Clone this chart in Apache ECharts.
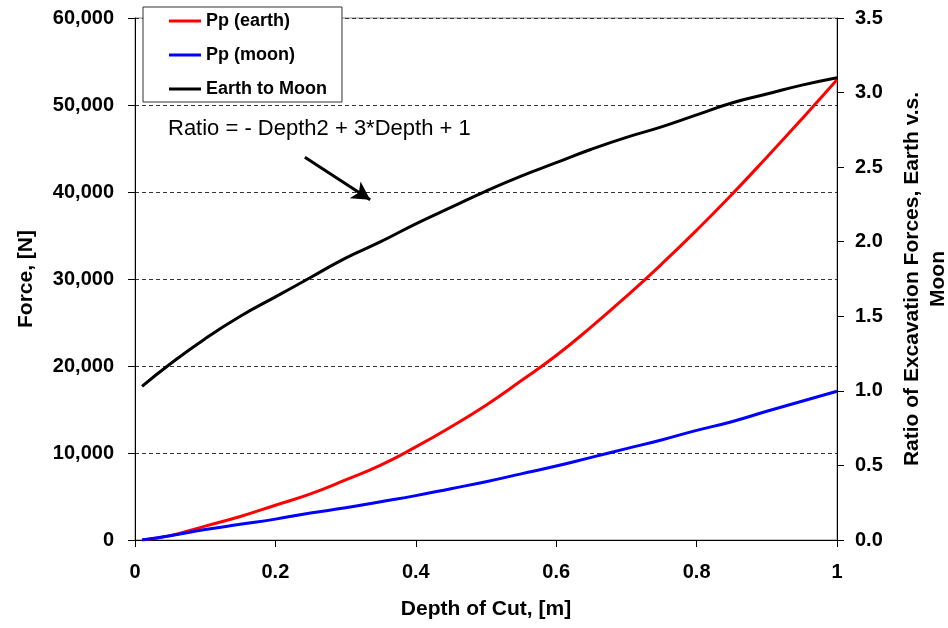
<!DOCTYPE html>
<html>
<head>
<meta charset="utf-8">
<script src="https://cdn.jsdelivr.net/npm/echarts@6/dist/echarts.min.js"></script>
<style>
  html, body { margin: 0; padding: 0; background: #fff; }
  #chart { width: 948px; height: 628px; }
</style>
</head>
<body>
<div id="chart"></div>
<script>
// depth of cut [m]
var depth = [0.01, 0.05, 0.1, 0.15, 0.2, 0.25, 0.3, 0.35, 0.4, 0.45, 0.5,
             0.55, 0.6, 0.65, 0.7, 0.75, 0.8, 0.85, 0.9, 0.95, 1.0];
// forces [N]
var ppEarth = [0, 500, 1600, 2700, 4000, 5300, 6900, 8600, 10700, 13000, 15500,
               18300, 21200, 24500, 28000, 31700, 35600, 39700, 44000, 48400, 52900];
var ppMoon = [0, 500, 1200, 1800, 2400, 3100, 3700, 4400, 5100, 5900, 6700,
              7600, 8500, 9500, 10500, 11500, 12600, 13600, 14800, 15950, 17100];
// ratio earth / moon (right axis)
var ratio = [1.03, 1.18, 1.35, 1.50, 1.63, 1.76, 1.89, 2.00, 2.12, 2.23, 2.34,
             2.44, 2.53, 2.62, 2.70, 2.77, 2.85, 2.93, 2.99, 3.05, 3.10];

// arrow of the annotation, in data units
var arrowFrom = [0.242, 44000];
var arrowTo = [0.335, 39100];

function pairs(xs, ys) {
    return xs.map(function (x, i) { return [x, ys[i]]; });
}

var font = "'Liberation Sans', Arial, sans-serif";
var myChart = echarts.init(document.getElementById('chart'));

var option = {
    animation: false,
    textStyle: {fontFamily: font},
    grid: {
        left: 135,
        right: 111,
        top: 18,
        bottom: 88,
        outerBoundsMode: 'none',
        show: true,
        borderColor: '#888',
        borderWidth: 1
    },
    legend: {
        orient: 'vertical',
        left: 143,
        top: 7,
        padding: [5, 15, 4, 26],
        icon: 'rect',
        itemWidth: 32,
        itemHeight: 3,
        itemGap: 16,
        backgroundColor: '#fff',
        borderColor: '#333',
        borderWidth: 1,
        borderRadius: 0,
        textStyle: {
            fontFamily: font,
            fontWeight: 'bold',
            fontSize: 18,
            color: '#000'
        },
        data: ['Pp (earth)', 'Pp (moon)', 'Earth to Moon']
    },
    graphic: [
        {
            type: 'text',
            left: 168,
            top: 118,
            style: {
                text: 'Ratio = - Depth2 + 3*Depth + 1',
                fontFamily: font,
                fontSize: 22,
                fill: '#000'
            }
        }
    ],
    xAxis: {
        type: 'value',
        min: 0,
        max: 1,
        interval: 0.2,
        name: 'Depth of Cut, [m]',
        nameLocation: 'middle',
        nameGap: 59,
        nameTextStyle: {fontFamily: font, fontWeight: 'bold', fontSize: 21, color: '#000'},
        axisLine: {lineStyle: {color: '#000', width: 1}},
        axisTick: {length: 7, lineStyle: {color: '#000'}},
        axisLabel: {
            margin: 22,
            fontFamily: font,
            fontWeight: 'bold',
            fontSize: 20,
            color: '#000'
        },
        splitLine: {show: false}
    },
    yAxis: [
        {
            type: 'value',
            min: 0,
            max: 60000,
            interval: 10000,
            position: 'left',
            name: 'Force, [N]',
            nameLocation: 'middle',
            nameGap: 98,
            nameRotate: 90,
            nameTextStyle: {fontFamily: font, fontWeight: 'bold', fontSize: 21, color: '#000'},
            axisLine: {show: true, lineStyle: {color: '#000', width: 1}},
            axisTick: {show: true, length: 7, lineStyle: {color: '#000'}},
            axisLabel: {
                margin: 21,
                fontFamily: font,
                fontWeight: 'bold',
                fontSize: 20,
                color: '#000',
                formatter: function (v) { return v.toLocaleString('en-US'); }
            },
            splitLine: {
                show: true,
                lineStyle: {color: '#333', type: [4, 3], width: 1}
            }
        },
        {
            type: 'value',
            min: 0,
            max: 3.5,
            interval: 0.5,
            position: 'right',
            alignTicks: false,
            name: 'Ratio of Excavation Forces, Earth v.s.\nMoon',
            nameLocation: 'middle',
            nameGap: 62,
            nameRotate: 90,
            nameTextStyle: {
                fontFamily: font,
                fontWeight: 'bold',
                fontSize: 21,
                color: '#000',
                lineHeight: 26,
                align: 'center'
            },
            axisLine: {show: true, lineStyle: {color: '#000', width: 1}},
            axisTick: {show: true, length: 7, lineStyle: {color: '#000'}},
            axisLabel: {
                margin: 18,
                fontFamily: font,
                fontWeight: 'bold',
                fontSize: 20,
                color: '#000',
                formatter: function (v) { return v.toFixed(1); }
            },
            splitLine: {show: false}
        }
    ],
    series: [
        {
            name: 'Pp (earth)',
            type: 'line',
            yAxisIndex: 0,
            symbol: 'none',
            smooth: true,
            lineStyle: {color: '#ff0000', width: 3},
            itemStyle: {color: '#ff0000'},
            data: pairs(depth, ppEarth),
            markLine: {
                silent: true,
                symbol: ['none', 'arrow'],
                symbolSize: [15, 18],
                lineStyle: {color: '#000', width: 3, type: 'solid'},
                label: {show: false},
                data: [[{coord: arrowFrom}, {coord: arrowTo}]]
            }
        },
        {
            name: 'Pp (moon)',
            type: 'line',
            yAxisIndex: 0,
            symbol: 'none',
            smooth: true,
            lineStyle: {color: '#0000ff', width: 3},
            itemStyle: {color: '#0000ff'},
            data: pairs(depth, ppMoon)
        },
        {
            name: 'Earth to Moon',
            type: 'line',
            yAxisIndex: 1,
            symbol: 'none',
            smooth: true,
            lineStyle: {color: '#000000', width: 3},
            itemStyle: {color: '#000000'},
            data: pairs(depth, ratio)
        }
    ]
};

myChart.setOption(option);
</script>
</body>
</html>
